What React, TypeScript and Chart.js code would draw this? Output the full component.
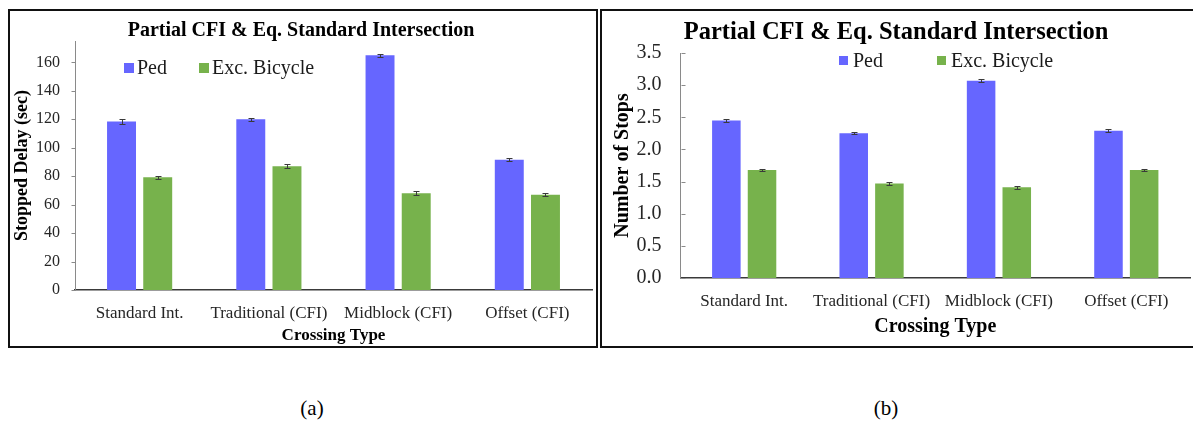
import React, { useEffect, useRef } from 'react';
import { Chart, registerables } from 'chart.js';

Chart.register(...registerables);

const FONT = '"Liberation Serif", "Times New Roman", Times, serif';
const PED_COLOR = '#6666FF';
const BIKE_COLOR = '#77B24C';

// ---- data ----
const categories = ['Standard Int.', 'Traditional (CFI)', 'Midblock (CFI)', 'Offset (CFI)'];
const seriesLabels = ['Ped', 'Exc. Bicycle'];
const chartTitle = 'Partial CFI & Eq. Standard Intersection';

const delayPed = [118.5, 120, 165, 91.5];
const delayPedErr = [1.5, 1.0, 1.2, 1.0];
const delayBike = [79.2, 87, 68, 67];
const delayBikeErr = [1.0, 1.3, 1.4, 1.0];
const delayTicks = [0, 20, 40, 60, 80, 100, 120, 140, 160];

const stopsPed = [2.45, 2.25, 3.07, 2.29];
const stopsPedErr = [0.025, 0.015, 0.02, 0.025];
const stopsBike = [1.68, 1.47, 1.41, 1.68];
const stopsBikeErr = [0.015, 0.02, 0.025, 0.02];
const stopsTicks = [0, 0.5, 1.0, 1.5, 2.0, 2.5, 3.0, 3.5];

// ---- plugins ----
const errorBarPlugin = {
  id: 'errorBars',
  afterDatasetsDraw(chart: any, _args: any, opts: any) {
    const { ctx } = chart;
    const yScale = chart.scales.y;
    ctx.save();
    ctx.strokeStyle = opts.color || '#333';
    ctx.lineWidth = 1;
    chart.data.datasets.forEach((ds: any, di: number) => {
      const errs = ds.errors;
      if (!errs) return;
      const meta = chart.getDatasetMeta(di);
      meta.data.forEach((bar: any, i: number) => {
        const v = ds.data[i];
        const e = errs[i];
        const x = Math.round(bar.x) + 0.5;
        const yTop = Math.round(yScale.getPixelForValue(v + e)) + 0.5;
        const yBot = Math.round(yScale.getPixelForValue(v - e)) + 0.5;
        const cap = opts.cap || 3;
        ctx.beginPath();
        ctx.moveTo(x, yTop);
        ctx.lineTo(x, yBot);
        ctx.moveTo(x - cap, yTop);
        ctx.lineTo(x + cap, yTop);
        ctx.moveTo(x - cap, yBot);
        ctx.lineTo(x + cap, yBot);
        ctx.stroke();
      });
    });
    ctx.restore();
  },
};

const boxLegendPlugin = {
  id: 'boxLegend',
  afterDraw(chart: any, _args: any, opts: any) {
    const { ctx } = chart;
    ctx.save();
    ctx.font = `${opts.fontSize}px ${FONT}`;
    ctx.textBaseline = 'middle';
    ctx.textAlign = 'left';
    chart.data.datasets.forEach((ds: any, i: number) => {
      const x = opts.xs[i];
      ctx.fillStyle = ds.backgroundColor;
      ctx.fillRect(x, opts.y - opts.box / 2, opts.box, opts.box);
      ctx.fillStyle = '#1a1a1a';
      ctx.fillText(ds.label, x + opts.box + opts.gap, opts.y + 1);
    });
    ctx.restore();
  },
};

const tickMarkPlugin = {
  id: 'tickMarks',
  afterDraw(chart: any, _args: any, opts: any) {
    const { ctx } = chart;
    const y = chart.scales.y;
    const x0 = Math.round(chart.chartArea.left) + 0.5;
    ctx.save();
    ctx.strokeStyle = opts.color;
    ctx.lineWidth = 1;
    ctx.beginPath();
    y.ticks.forEach((t: any) => {
      const py = Math.round(y.getPixelForValue(t.value)) + 0.5;
      if (opts.inside) {
        ctx.moveTo(x0, py);
        ctx.lineTo(x0 + opts.length, py);
      } else {
        ctx.moveTo(x0 - opts.length, py);
        ctx.lineTo(x0, py);
      }
    });
    ctx.stroke();
    ctx.restore();
  },
};

type PanelSpec = {
  width: number;
  height: number;
  ped: number[];
  pedErr: number[];
  bike: number[];
  bikeErr: number[];
  ticks: number[];
  yMax: number;
  decimals: number;
  yTitle: string;
  s: any;
};

function buildConfig(p: PanelSpec): any {
  const s = p.s;
  return {
    type: 'bar',
    data: {
      labels: categories,
      datasets: [
        {
          label: seriesLabels[0],
          data: p.ped,
          errors: p.pedErr,
          backgroundColor: PED_COLOR,
          categoryPercentage: 0.56,
          barPercentage: 0.8,
        },
        {
          label: seriesLabels[1],
          data: p.bike,
          errors: p.bikeErr,
          backgroundColor: BIKE_COLOR,
          categoryPercentage: 0.56,
          barPercentage: 0.8,
        },
      ],
    },
    options: {
      responsive: false,
      animation: false,
      devicePixelRatio: 1,
      layout: { padding: { left: 0, right: s.padRight, top: 0, bottom: 0 } },
      plugins: {
        legend: { display: false },
        tooltip: { enabled: false },
        title: {
          display: true,
          text: chartTitle,
          color: '#000',
          font: { family: FONT, size: s.titleSize, weight: 'bold', lineHeight: 1 },
          padding: { top: s.titlePadTop, bottom: s.titlePadBottom },
        },
        errorBars: { color: '#3a3a3a', cap: 3 },
        boxLegend: { xs: s.legendXs, y: s.legendY, box: s.legendBox, gap: s.legendGap, fontSize: s.legendSize },
        tickMarks: { inside: s.tickInside, length: 4, color: '#8a8a8a' },
      },
      scales: {
        x: {
          grid: { display: false, drawTicks: false },
          border: { display: true, color: '#3a3a3a', width: 1.5 },
          ticks: {
            color: '#262626',
            font: { family: FONT, size: s.xTickSize },
            padding: s.xTickPad,
            maxRotation: 0,
            autoSkip: false,
          },
          title: {
            display: true,
            text: 'Crossing Type',
            color: '#000',
            font: { family: FONT, size: s.xTitleSize, weight: 'bold' },
            padding: { top: 0, bottom: s.xTitlePadBottom },
          },
          afterFit(scale: any) {
            scale.height = s.xHeight;
          },
        },
        y: {
          min: 0,
          max: p.yMax,
          grid: { display: false, drawTicks: false },
          border: { display: true, color: '#8a8a8a', width: 1 },
          afterBuildTicks(scale: any) {
            scale.ticks = p.ticks.map((v) => ({ value: v }));
          },
          ticks: {
            color: '#262626',
            font: { family: FONT, size: s.yTickSize },
            padding: s.yTickPad,
            callback: (v: any) => Number(v).toFixed(p.decimals),
          },
          title: {
            display: true,
            text: p.yTitle,
            color: '#000',
            font: { family: FONT, size: s.yTitleSize, weight: 'bold' },
            padding: { top: s.yTitlePadTop, bottom: 0 },
          },
          afterFit(scale: any) {
            scale.width = s.yWidth;
          },
        },
      },
    },
    plugins: [errorBarPlugin, boxLegendPlugin, tickMarkPlugin],
  };
}

function BarPanel({ spec, left, top }: { spec: PanelSpec; left: number; top: number }) {
  const ref = useRef<HTMLCanvasElement | null>(null);
  useEffect(() => {
    if (!ref.current) return;
    const chart = new Chart(ref.current, buildConfig(spec));
    return () => chart.destroy();
  }, [spec]);
  return (
    <div
      style={{
        position: 'absolute',
        left,
        top,
        width: spec.width,
        height: spec.height,
        border: '2px solid #111',
        background: '#fff',
      }}
    >
      <canvas ref={ref} width={spec.width} height={spec.height} style={{ display: 'block' }} />
    </div>
  );
}

const delaySpec: PanelSpec = {
  width: 586,
  height: 335,
  ped: delayPed,
  pedErr: delayPedErr,
  bike: delayBike,
  bikeErr: delayBikeErr,
  ticks: delayTicks,
  yMax: 175,
  decimals: 0,
  yTitle: 'Stopped Delay (sec)',
  s: {
    padRight: 4,
    titleSize: 20,
    titlePadTop: 10,
    titlePadBottom: 0,
    legendXs: [114, 189],
    legendY: 57,
    legendBox: 10,
    legendGap: 3,
    legendSize: 20,
    tickInside: false,
    xTickSize: 17,
    xTickPad: 13,
    xTitleSize: 17,
    xTitlePadBottom: 0,
    xHeight: 56,
    yTickSize: 16,
    yTickPad: 15,
    yTitleSize: 18,
    yTitlePadTop: 2,
    yWidth: 65,
  },
};

const stopsSpec: PanelSpec = {
  width: 596,
  height: 335,
  ped: stopsPed,
  pedErr: stopsPedErr,
  bike: stopsBike,
  bikeErr: stopsBikeErr,
  ticks: stopsTicks,
  yMax: 3.5,
  decimals: 1,
  yTitle: 'Number of Stops',
  s: {
    padRight: 8,
    titleSize: 24.5,
    titlePadTop: 9.5,
    titlePadBottom: 8,
    legendXs: [237, 335],
    legendY: 49.5,
    legendBox: 9,
    legendGap: 5,
    legendSize: 20,
    tickInside: true,
    xTickSize: 17,
    xTickPad: 13,
    xTitleSize: 20,
    xTitlePadBottom: 7,
    xHeight: 68,
    yTickSize: 20,
    yTickPad: 19,
    yTitleSize: 20,
    yTitlePadTop: 8.5,
    yWidth: 78.5,
  },
};

const captionStyle: React.CSSProperties = {
  position: 'absolute',
  top: 395,
  width: 60,
  textAlign: 'center',
  fontFamily: FONT,
  fontSize: 21,
  lineHeight: '26px',
  color: '#000',
};

export default function App() {
  return (
    <div
      style={{
        position: 'absolute',
        left: 0,
        top: 0,
        width: 1193,
        height: 421,
        overflow: 'hidden',
        background: '#fff',
      }}
    >
      <BarPanel spec={delaySpec} left={8} top={9} />
      <BarPanel spec={stopsSpec} left={600} top={9} />
      <div style={{ ...captionStyle, left: 282 }}>(a)</div>
      <div style={{ ...captionStyle, left: 856 }}>(b)</div>
    </div>
  );
}
